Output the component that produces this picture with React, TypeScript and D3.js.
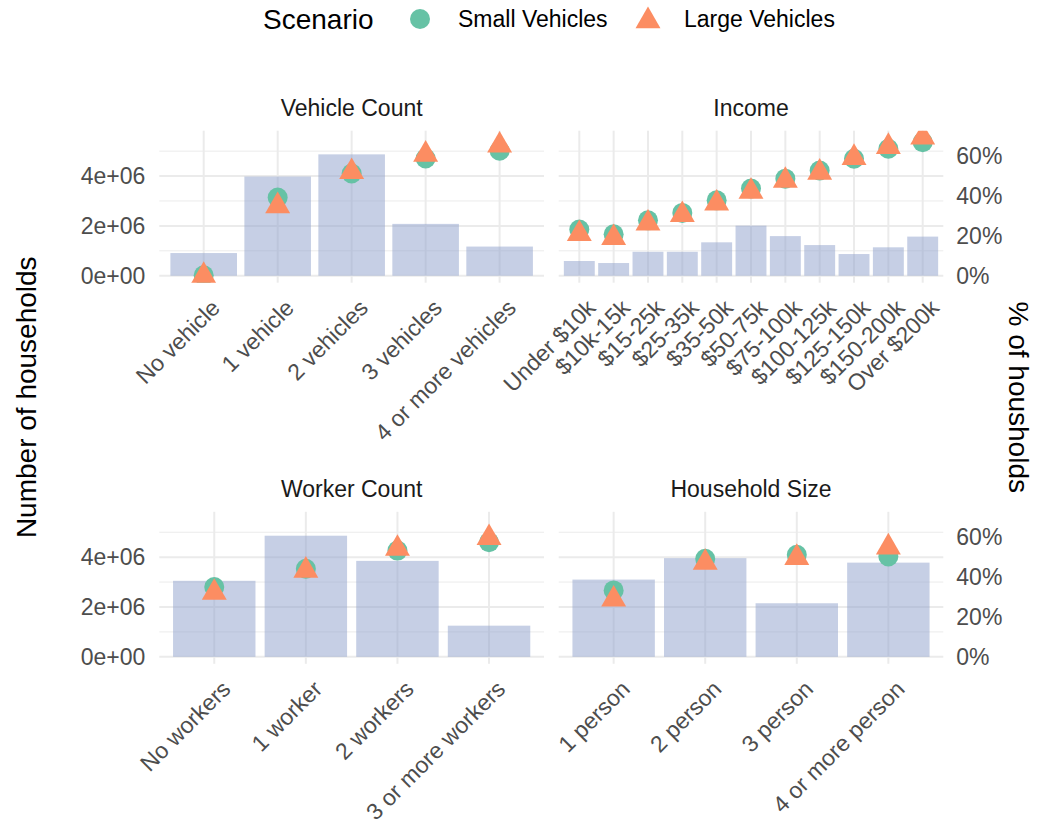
import React from "react";
import * as d3 from "d3";

// ---------- data ----------
const vehicleCats = ["No vehicle", "1 vehicle", "2 vehicles", "3 vehicles", "4 or more vehicles"];
const vehicleHH = [0.91e6, 3.98e6, 4.87e6, 2.08e6, 1.17e6];
const vehicleSmall = [0.2, 39.2, 51.3, 58.8, 62.7];
const vehicleLarge = [0, 35.0, 52.1, 60.8, 65.4];

const incomeCats = ["Under $10k", "$10k-15k", "$15-25k", "$25-35k", "$35-50k", "$50-75k", "$75-100k", "$100-125k", "$125-150k", "$150-200k", "Over $200k"];
const incomeHH = [0.59e6, 0.51e6, 0.96e6, 0.96e6, 1.34e6, 2.01e6, 1.59e6, 1.23e6, 0.87e6, 1.14e6, 1.57e6];
const incomeSmall = [23.2, 20.8, 27.8, 31.5, 37.8, 43.7, 48.7, 52.8, 58.7, 63.7, 67.0];
const incomeLarge = [21.0, 19.0, 26.3, 30.5, 36.3, 42.2, 47.7, 51.8, 59.2, 64.7, 69.4];

const workerCats = ["No workers", "1 worker", "2 workers", "3 or more workers"];
const workerHH = [3.05e6, 4.86e6, 3.85e6, 1.25e6];
const workerSmall = [35.0, 44.2, 53.3, 57.5];
const workerLarge = [32.2, 43.3, 54.3, 59.7];

const sizeCats = ["1 person", "2 person", "3 person", "4 or more person"];
const sizeHH = [3.1e6, 3.96e6, 2.15e6, 3.78e6];
const sizeSmall = [33.3, 49.2, 51.2, 50.3];
const sizeLarge = [28.8, 47.3, 49.7, 55.0];

const yMajorTicks = [0, 2e6, 4e6];
const yMinorTicks = [1e6, 3e6, 5e6];
const pctTicks = [0, 20, 40, 60];
const yTickLabels = ["0e+00", "2e+06", "4e+06"];
const PCT_TOTAL = 8e6; // 100% on the secondary axis

const panels = [
  { title: "Vehicle Count", cats: vehicleCats, hh: vehicleHH, small: vehicleSmall, large: vehicleLarge, col: 0, row: 0 },
  { title: "Income", cats: incomeCats, hh: incomeHH, small: incomeSmall, large: incomeLarge, col: 1, row: 0 },
  { title: "Worker Count", cats: workerCats, hh: workerHH, small: workerSmall, large: workerLarge, col: 0, row: 1 },
  { title: "Household Size", cats: sizeCats, hh: sizeHH, small: sizeSmall, large: sizeLarge, col: 1, row: 1 },
];

// ---------- layout ----------
const W = 1039, H = 835;
const colX = [[159.3, 544], [558.7, 943.3]];
const rowY = [[130.7, 282.7], [511.8, 663.8]];
const FONT = "'Liberation Sans', Arial, sans-serif";
const GREEN = "#66C2A5";
const ORANGE = "#FC8D62";
const BAR = "#8DA0CB";
const GRID = "#EBEBEB";

const triPath = (cx: number, cy: number, r = 14.4) => {
  const xc = r * Math.sqrt(3) / 2;
  return `M${cx},${cy - r}L${cx + xc},${cy + r / 2}L${cx - xc},${cy + r / 2}Z`;
};

function Panel({ p, idx }: { p: typeof panels[number]; idx: number }) {
  const [x0, x1] = colX[p.col];
  const [yt, yb] = rowY[p.row];
  const x = d3.scaleBand<string>().domain(p.cats).range([x0, x1]).paddingInner(0.1).paddingOuter(0.15);
  const y = d3.scaleLinear().domain([-0.28e6, 5.82e6]).range([yb, yt]);
  const cx = (c: string) => (x(c) as number) + x.bandwidth() / 2;
  const clipId = `clip${idx}`;
  return (
    <g>
      <defs>
        <clipPath id={clipId}>
          <rect x={x0} y={yt} width={x1 - x0} height={yb - yt} />
        </clipPath>
      </defs>
      {yMinorTicks.map((t) => (
        <line key={"mn" + t} x1={x0} x2={x1} y1={y(t)} y2={y(t)} stroke={GRID} strokeWidth={1} />
      ))}
      {yMajorTicks.map((t) => (
        <line key={"mj" + t} x1={x0} x2={x1} y1={y(t)} y2={y(t)} stroke={GRID} strokeWidth={2} />
      ))}
      {p.cats.map((c) => (
        <line key={"vx" + c} x1={cx(c)} x2={cx(c)} y1={yt} y2={yb} stroke={GRID} strokeWidth={2} />
      ))}
      <g clipPath={`url(#${clipId})`}>
        {p.cats.map((c, i) => (
          <rect key={"b" + c} x={x(c)} width={x.bandwidth()} y={y(p.hh[i])} height={y(0) - y(p.hh[i])} fill={BAR} fillOpacity={0.5} />
        ))}
        {p.cats.map((c, i) => (
          <circle key={"s" + c} cx={cx(c)} cy={y((p.small[i] / 100) * PCT_TOTAL)} r={10} fill={GREEN} />
        ))}
        {p.cats.map((c, i) => (
          <path key={"l" + c} d={triPath(cx(c), y((p.large[i] / 100) * PCT_TOTAL))} fill={ORANGE} />
        ))}
      </g>
      <text x={(x0 + x1) / 2} y={yt - 15} textAnchor="middle" fontSize={23} fill="#1A1A1A" fontFamily={FONT}>
        {p.title}
      </text>
      {p.cats.map((c) => (
        <text
          key={"xl" + c}
          transform={`translate(${cx(c) + 6},${yb + 15}) rotate(-45)`}
          textAnchor="end"
          dy="0.72em"
          fontSize={23}
          fill="#4D4D4D"
          fontFamily={FONT}
        >
          {c}
        </text>
      ))}
      {p.col === 0 &&
        yMajorTicks.map((t, i) => (
          <text key={"yl" + t} x={x0 - 14} y={y(t)} dy="0.36em" textAnchor="end" fontSize={23} fill="#4D4D4D" fontFamily={FONT}>
            {yTickLabels[i]}
          </text>
        ))}
      {p.col === 1 &&
        pctTicks.map((t) => (
          <text key={"yr" + t} x={x1 + 13} y={y((t / 100) * PCT_TOTAL)} dy="0.36em" textAnchor="start" fontSize={23} fill="#4D4D4D" fontFamily={FONT}>
            {t + "%"}
          </text>
        ))}
    </g>
  );
}

export default function App() {
  const midY = (rowY[0][0] + rowY[1][1]) / 2;
  return (
    <svg width={W} height={H} style={{ position: "absolute", left: 0, top: 0, display: "block", background: "#fff" }} fontFamily={FONT}>
      <rect x={0} y={0} width={W} height={H} fill="#fff" />
      {panels.map((p, i) => (
        <Panel key={p.title} p={p} idx={i} />
      ))}
      <text transform={`translate(36,${midY}) rotate(-90)`} textAnchor="middle" fontSize={28} fill="#000">
        Number of households
      </text>
      <text transform={`translate(1009,${midY}) rotate(90)`} textAnchor="middle" fontSize={28} fill="#000">
        % of housholds
      </text>
      <g>
        <text x={263} y={29} fontSize={28} fill="#000">Scenario</text>
        <circle cx={420} cy={19} r={10} fill={GREEN} />
        <text x={458} y={27} fontSize={23} fill="#000">Small Vehicles</text>
        <path d={triPath(648, 21)} fill={ORANGE} />
        <text x={684} y={27} fontSize={23} fill="#000">Large Vehicles</text>
      </g>
    </svg>
  );
}
